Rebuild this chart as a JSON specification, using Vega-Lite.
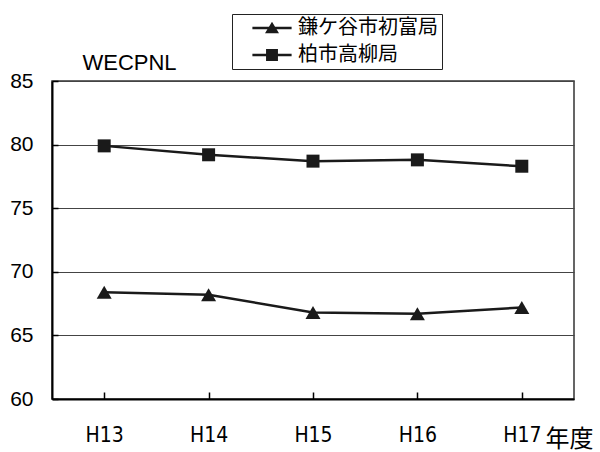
{
  "$schema": "https://vega.github.io/schema/vega-lite/v6.json",
  "width": 522,
  "height": 318,
  "autosize": "none",
  "padding": {"left": 52, "top": 81, "right": 26, "bottom": 53},
  "background": "white",
  "data": {
    "values": [
      {"year": "H13", "station": "鎌ケ谷市初富局", "wecpnl": 68.4},
      {"year": "H14", "station": "鎌ケ谷市初富局", "wecpnl": 68.2},
      {"year": "H15", "station": "鎌ケ谷市初富局", "wecpnl": 66.8},
      {"year": "H16", "station": "鎌ケ谷市初富局", "wecpnl": 66.7},
      {"year": "H17", "station": "鎌ケ谷市初富局", "wecpnl": 67.2},
      {"year": "H13", "station": "柏市高柳局", "wecpnl": 79.9},
      {"year": "H14", "station": "柏市高柳局", "wecpnl": 79.2},
      {"year": "H15", "station": "柏市高柳局", "wecpnl": 78.7},
      {"year": "H16", "station": "柏市高柳局", "wecpnl": 78.8},
      {"year": "H17", "station": "柏市高柳局", "wecpnl": 78.3}
    ]
  },
  "encoding": {
    "x": {
      "field": "year",
      "type": "ordinal",
      "scale": {"paddingInner": 0, "paddingOuter": 0},
      "axis": {
        "title": "年度",
        "titleFont": "Noto Sans CJK JP",
        "titleFontSize": 24,
        "titleFontWeight": "normal",
        "titleColor": "black",
        "titleAnchor": null,
        "titleAlign": "center",
        "titleBaseline": "middle",
        "titleX": 517,
        "titleY": 40,
        "labelAngle": 0,
        "labelFont": "Liberation Sans Narrow, DejaVu Sans Condensed, Noto Sans CJK JP, sans-serif",
        "labelFontSize": 21,
        "labelColor": "black",
        "labelPadding": 32,
        "bandPosition": 0,
        "tickSize": -7,
        "tickColor": "black",
        "tickWidth": 1.5,
        "domainColor": "black",
        "domainWidth": 2,
        "grid": false
      }
    },
    "y": {
      "field": "wecpnl",
      "type": "quantitative",
      "scale": {"domain": [60, 85], "nice": false, "zero": false},
      "axis": {
        "title": "WECPNL",
        "titleFont": "Liberation Sans",
        "titleFontSize": 22,
        "titleFontWeight": "normal",
        "titleColor": "black",
        "titleAngle": 0,
        "titleAnchor": null,
        "titleAlign": "center",
        "titleBaseline": "middle",
        "titleX": 77,
        "titleY": -19,
        "values": [60, 65, 70, 75, 80, 85],
        "labelFont": "Liberation Sans",
        "labelFontSize": 21,
        "labelColor": "black",
        "labelPadding": 25,
        "tickSize": -6,
        "tickColor": "black",
        "tickWidth": 1.5,
        "domainColor": "black",
        "domainWidth": 2,
        "gridColor": "#444444",
        "gridWidth": 1
      }
    }
  },
  "layer": [
    {
      "mark": {"type": "line", "color": "#1a1a1a", "strokeWidth": 2.5},
      "encoding": {"detail": {"field": "station"}}
    },
    {
      "transform": [{"filter": "datum.station === '鎌ケ谷市初富局'"}],
      "mark": {"type": "point", "shape": "triangle-up", "filled": true, "opacity": 1, "color": "#1a1a1a", "size": 225}
    },
    {
      "transform": [{"filter": "datum.station === '柏市高柳局'"}],
      "mark": {"type": "point", "shape": "square", "filled": true, "opacity": 1, "color": "#1a1a1a", "size": 169}
    },
    {
      "mark": {"type": "point", "filled": true, "color": "#1a1a1a", "opacity": 0, "size": 196},
      "encoding": {
        "shape": {
          "field": "station",
          "type": "nominal",
          "scale": {
            "domain": ["鎌ケ谷市初富局", "柏市高柳局"],
            "range": [
              "M-2.8,-0.18H2.8V0.18H-2.8ZM-1,0.75L0,-0.9L1,0.75Z",
              "M-2.8,-0.18H2.8V0.18H-2.8ZM-0.85,-0.85H0.85V0.85H-0.85Z"
            ]
          },
          "legend": {
            "title": null,
            "orient": "none",
            "legendX": 180,
            "legendY": -67,
            "padding": 4,
            "symbolOffset": 26,
            "symbolSize": 196,
            "symbolOpacity": 1,
            "symbolFillColor": "#1a1a1a",
            "rowPadding": 7,
            "labelFont": "Noto Sans CJK JP",
            "labelFontSize": 20,
            "labelColor": "black",
            "labelOffset": 16,
            "labelLimit": 400,
            "strokeColor": "#222222",
            "fillColor": "white"
          }
        }
      }
    }
  ],
  "config": {
    "view": {"stroke": "#333333", "strokeWidth": 1.5},
    "font": "Liberation Sans"
  }
}
